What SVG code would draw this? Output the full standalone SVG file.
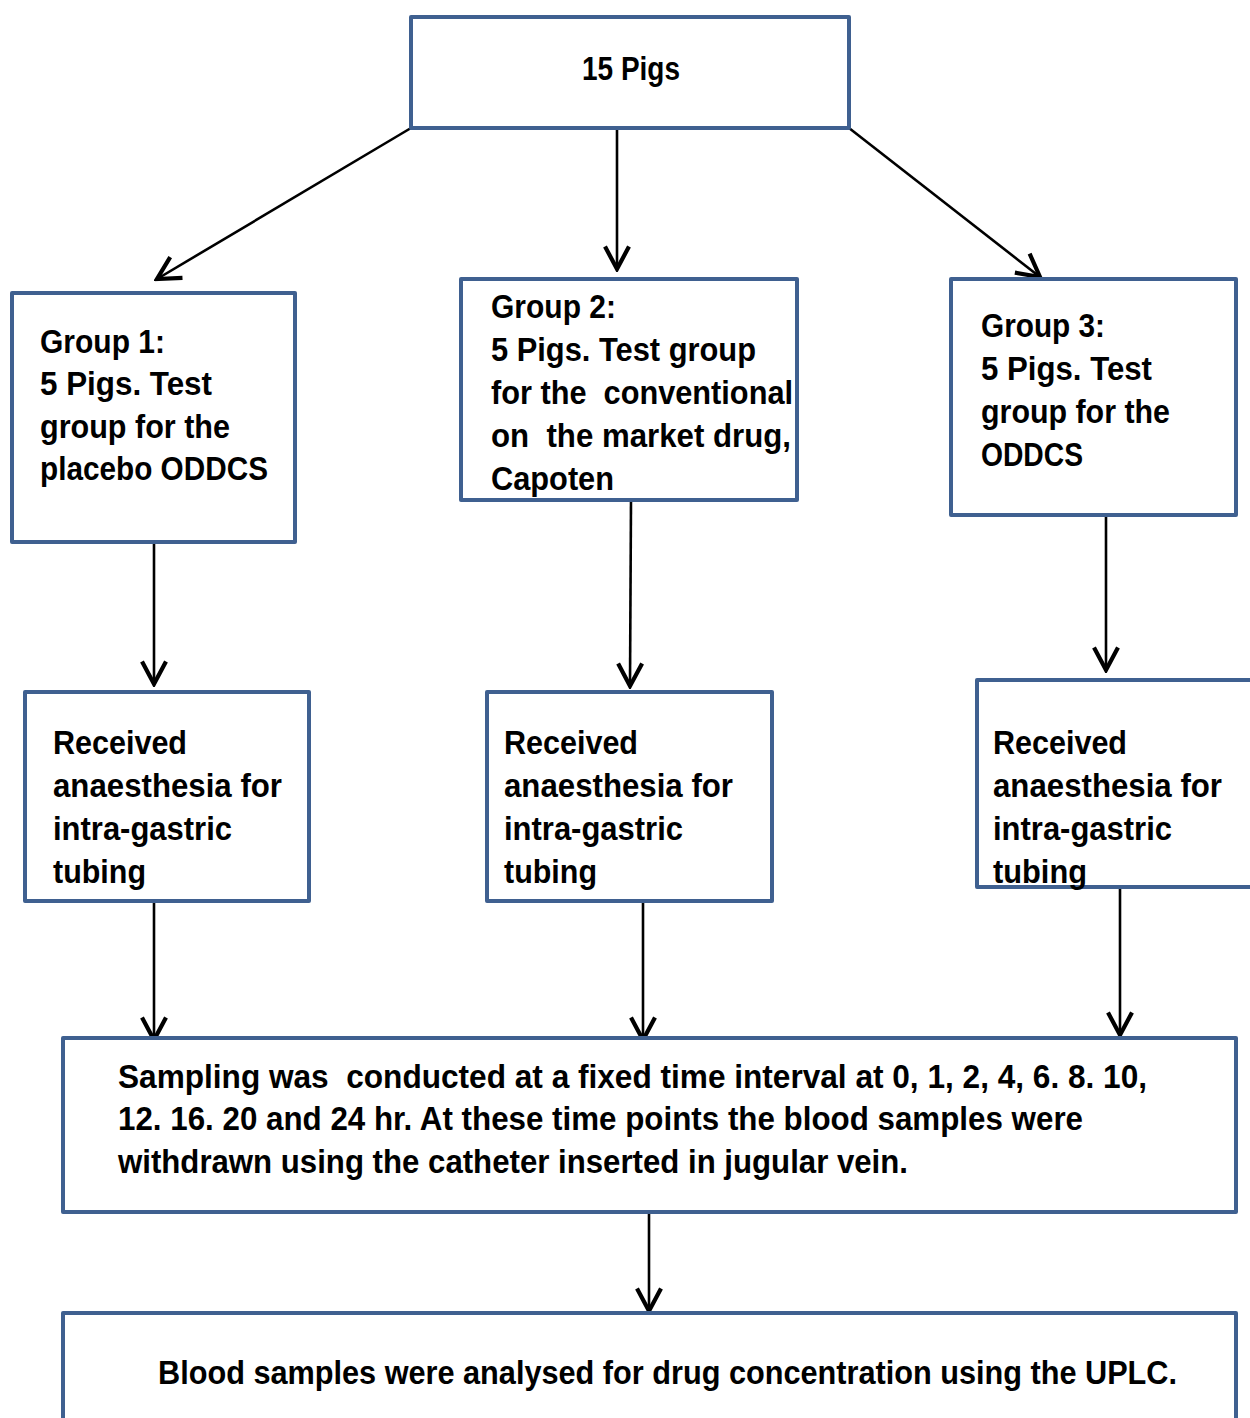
<svg xmlns="http://www.w3.org/2000/svg" width="1250" height="1418" viewBox="0 0 1250 1418">
  <style>
    .box { fill: #ffffff; stroke: #3f6090; stroke-width: 4; stroke-linejoin: round; }
    .lbl { font-family: "Liberation Sans", Arial, sans-serif; font-weight: bold; font-size: 34px; fill: #000000; white-space: pre; }
    .edge { stroke: #000000; stroke-width: 2.6; fill: none; marker-end: url(#arrow); }
  </style>
  <defs>
    <marker id="arrow" markerUnits="userSpaceOnUse" markerWidth="30" markerHeight="30" viewBox="-18 -10 20 20" refX="0" refY="0" orient="auto">
      <path d="M-15,-8 L0,0 L-15,8" fill="none" stroke="#000000" stroke-width="2.8" stroke-linejoin="miter"/>
    </marker>
  </defs>
  <rect width="1250" height="1418" fill="#ffffff"/>

  <!-- connectors -->
  <g id="connectors">
    <line class="edge" x1="411" y1="128" x2="157" y2="279"/>
    <line class="edge" x1="617" y1="128" x2="617" y2="269"/>
    <line class="edge" x1="849" y1="128" x2="1040" y2="277"/>
    <line class="edge" x1="154" y1="542" x2="154" y2="684"/>
    <line class="edge" x1="631" y1="500" x2="630" y2="686"/>
    <line class="edge" x1="1106" y1="515" x2="1106" y2="670"/>
    <line class="edge" x1="154" y1="901" x2="154" y2="1040"/>
    <line class="edge" x1="643" y1="901" x2="643" y2="1040"/>
    <line class="edge" x1="1120" y1="887" x2="1120" y2="1035"/>
    <line class="edge" x1="649" y1="1212" x2="649" y2="1311"/>
  </g>

  <g id="pigs">
    <rect class="box" x="411" y="17" width="438" height="111"/>
    <text class="lbl" x="582" y="80" textLength="98" lengthAdjust="spacingAndGlyphs">15 Pigs</text>
  </g>

  <g id="group1">
    <rect class="box" x="12" y="293" width="283" height="249"/>
    <text class="lbl" x="40" y="353" textLength="125" lengthAdjust="spacingAndGlyphs">Group 1:</text>
    <text class="lbl" x="40" y="395" textLength="172" lengthAdjust="spacingAndGlyphs">5 Pigs. Test</text>
    <text class="lbl" x="40" y="438" textLength="190" lengthAdjust="spacingAndGlyphs">group for the</text>
    <text class="lbl" x="40" y="480" textLength="228" lengthAdjust="spacingAndGlyphs">placebo ODDCS</text>
  </g>

  <g id="group2">
    <rect class="box" x="461" y="279" width="336" height="221"/>
    <text class="lbl" x="491" y="318" textLength="125" lengthAdjust="spacingAndGlyphs">Group 2:</text>
    <text class="lbl" x="491" y="361" textLength="265" lengthAdjust="spacingAndGlyphs">5 Pigs. Test group</text>
    <text class="lbl" x="491" y="404" textLength="302" lengthAdjust="spacingAndGlyphs">for the  conventional</text>
    <text class="lbl" x="491" y="447" textLength="300" lengthAdjust="spacingAndGlyphs">on  the market drug,</text>
    <text class="lbl" x="491" y="490" textLength="123" lengthAdjust="spacingAndGlyphs">Capoten</text>
  </g>

  <g id="group3">
    <rect class="box" x="951" y="279" width="285" height="236"/>
    <text class="lbl" x="981" y="337" textLength="124" lengthAdjust="spacingAndGlyphs">Group 3:</text>
    <text class="lbl" x="981" y="380" textLength="171" lengthAdjust="spacingAndGlyphs">5 Pigs. Test</text>
    <text class="lbl" x="981" y="423" textLength="189" lengthAdjust="spacingAndGlyphs">group for the</text>
    <text class="lbl" x="981" y="466" textLength="102" lengthAdjust="spacingAndGlyphs">ODDCS</text>
  </g>

  <g id="anaesthesia1">
    <rect class="box" x="25" y="692" width="284" height="209"/>
    <text class="lbl" x="53" y="754" textLength="134" lengthAdjust="spacingAndGlyphs">Received</text>
    <text class="lbl" x="53" y="797" textLength="229" lengthAdjust="spacingAndGlyphs">anaesthesia for</text>
    <text class="lbl" x="53" y="840" textLength="179" lengthAdjust="spacingAndGlyphs">intra-gastric</text>
    <text class="lbl" x="53" y="883" textLength="93" lengthAdjust="spacingAndGlyphs">tubing</text>
  </g>

  <g id="anaesthesia2">
    <rect class="box" x="487" y="692" width="285" height="209"/>
    <text class="lbl" x="504" y="754" textLength="134" lengthAdjust="spacingAndGlyphs">Received</text>
    <text class="lbl" x="504" y="797" textLength="229" lengthAdjust="spacingAndGlyphs">anaesthesia for</text>
    <text class="lbl" x="504" y="840" textLength="179" lengthAdjust="spacingAndGlyphs">intra-gastric</text>
    <text class="lbl" x="504" y="883" textLength="93" lengthAdjust="spacingAndGlyphs">tubing</text>
  </g>

  <g id="anaesthesia3">
    <!-- box runs past the right edge of the page -->
    <path class="box" d="M1250,680 H977 V887 H1250"/>
    <text class="lbl" x="993" y="754" textLength="134" lengthAdjust="spacingAndGlyphs">Received</text>
    <text class="lbl" x="993" y="797" textLength="229" lengthAdjust="spacingAndGlyphs">anaesthesia for</text>
    <text class="lbl" x="993" y="840" textLength="179" lengthAdjust="spacingAndGlyphs">intra-gastric</text>
    <text class="lbl" x="993" y="883" textLength="94" lengthAdjust="spacingAndGlyphs">tubing</text>
  </g>

  <g id="sampling">
    <rect class="box" x="63" y="1038" width="1173" height="174"/>
    <text class="lbl" x="118" y="1088" textLength="1029" lengthAdjust="spacingAndGlyphs">Sampling was  conducted at a fixed time interval at 0, 1, 2, 4, 6. 8. 10,</text>
    <text class="lbl" x="118" y="1130" textLength="965" lengthAdjust="spacingAndGlyphs">12. 16. 20 and 24 hr. At these time points the blood samples were</text>
    <text class="lbl" x="118" y="1173" textLength="790" lengthAdjust="spacingAndGlyphs">withdrawn using the catheter inserted in jugular vein.</text>
  </g>

  <g id="analysis">
    <!-- box runs down to the bottom edge of the page -->
    <path class="box" d="M63,1418 V1313 H1236 V1418"/>
    <text class="lbl" x="158" y="1384" textLength="1019" lengthAdjust="spacingAndGlyphs">Blood samples were analysed for drug concentration using the UPLC.</text>
  </g>
</svg>
